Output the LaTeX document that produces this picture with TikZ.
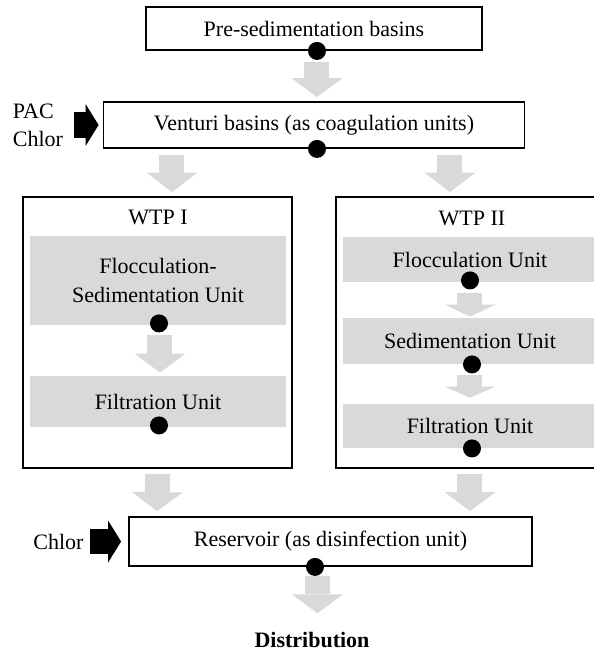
\documentclass[tikz,border=0pt]{standalone}
\usepackage{fontspec}
\setmainfont{Liberation Serif}
\usetikzlibrary{arrows.meta}
\definecolor{unitgray}{HTML}{D9D9D9}

\begin{document}
\begin{tikzpicture}[
  x=1pt, y=1pt,
  box/.style={draw, line width=0.9pt, align=center, inner sep=0pt,
              font=\fontsize{11}{14.5}\selectfont},
  unit/.style={fill=unitgray, align=center, inner sep=0pt,
               minimum width=127pt, font=\fontsize{11}{14.5}\selectfont},
  chem/.style={align=left, inner sep=0pt, font=\fontsize{11}{14}\selectfont},
  dot/.style={circle, fill=black, inner sep=0pt, minimum size=9pt},
  flow/.style={draw=unitgray, line width=12.5pt,
               -{Triangle[width=25.5pt, length=#1, line width=0pt]}},
  flow/.default=9.5pt,
  feed/.style={draw=black, line width=12.75pt,
               -{Triangle[width=21pt, length=6.5pt, line width=0pt]}}
]
  \useasboundingbox (0,0) rectangle (297,-325);
  \clip (0,0) rectangle (297,-325);

  \node[box, minimum width=168pt, minimum height=21.5pt] (pre) at (157, -14.25)
    {Pre-sedimentation basins};
  \node[box, minimum width=210.5pt, minimum height=23pt] (vent) at (157, -62.5)
    {Venturi basins (as coagulation units)};
  \node[chem] (chema) at (19, -62.5) {PAC\\Chlor};

  \node[box, minimum width=134.5pt, minimum height=135.5pt] (wtpa) at (78.75, -166.25) {};
  \node[box, minimum width=134pt, minimum height=135.5pt] (wtpb) at (235, -166.25) {};
  \node[box, draw=none] (ta) at (79, -108.5) {WTP I};
  \node[box, draw=none] (tb) at (236, -109) {WTP II};

  \node[unit, minimum width=128pt, minimum height=44.5pt] (fs) at (79, -140.25)
    {Flocculation-\\Sedimentation Unit};
  \node[unit, minimum width=128pt, minimum height=25.5pt] (fa) at (79, -200.75)
    {Filtration Unit};

  \node[unit, minimum height=22.5pt] (fl) at (235, -129.75) {Flocculation Unit};
  \node[unit, minimum height=23pt] (sd) at (235, -170.5) {Sedimentation Unit};
  \node[unit, minimum height=22pt] (fb) at (235, -213) {Filtration Unit};

  \node[box, minimum width=201.5pt, minimum height=24.5pt] (res) at (165.25, -270.75)
    {Reservoir (as disinfection unit)};
  \node[chem] (chemb) at (29.25, -270.75) {Chlor};
  \node[box, draw=none, font=\fontsize{11}{14}\selectfont\bfseries] (dist) at (156, -320)
    {Distribution};

  \draw[flow] ([xshift=1.5pt, yshift=-5.5pt]pre.south) -- ([xshift=1.5pt, yshift=2pt]vent.north);
  \draw[flow=9.75pt] ([xshift=-71pt, yshift=-3pt]vent.south) -- ([xshift=7.25pt, yshift=2pt]wtpa.north);
  \draw[flow=9.75pt] ([xshift=68pt, yshift=-3pt]vent.south) -- ([xshift=-10pt, yshift=2pt]wtpb.north);
  \draw[flow] ([xshift=1pt, yshift=-5pt]fs.south) -- ([xshift=1pt, yshift=1.5pt]fa.north);
  \draw[flow=6pt] ([yshift=-5.5pt]fl.south) -- ([yshift=0.5pt]sd.north);
  \draw[flow=5.5pt] ([yshift=-5.5pt]sd.south) -- ([yshift=3pt]fb.north);
  \draw[flow] ([yshift=-2.5pt]wtpa.south) -- ([xshift=-86.75pt, yshift=2.5pt]res.north);
  \draw[flow] ([yshift=-2.5pt]wtpb.south) -- ([xshift=69.75pt, yshift=2.5pt]res.north);
  \draw[flow] ([xshift=-6.5pt, yshift=-4.5pt]res.south) -- ([xshift=2.75pt, yshift=9pt]dist.north);

  \draw[feed] ([xshift=5.5pt]chema.east) -- ([xshift=-2pt]vent.west);
  \draw[feed] ([xshift=3.25pt]chemb.east) -- ([xshift=-3.5pt]res.west);

  \node[dot] (dpre) at ([xshift=1.5pt]pre.south) {};
  \node[dot] (dvent) at ([xshift=1.5pt]vent.south) {};
  \node[dot] (dfs) at ([xshift=0.5pt, yshift=1pt]fs.south) {};
  \node[dot] (dfa) at ([xshift=0.5pt, yshift=1pt]fa.south) {};
  \node[dot] (dfl) at ([yshift=1pt]fl.south) {};
  \node[dot] (dsd) at ([xshift=1pt]sd.south) {};
  \node[dot] (dfb) at ([xshift=1pt]fb.south) {};
  \node[dot] (dres) at ([xshift=-7.75pt]res.south) {};
\end{tikzpicture}
\end{document}
